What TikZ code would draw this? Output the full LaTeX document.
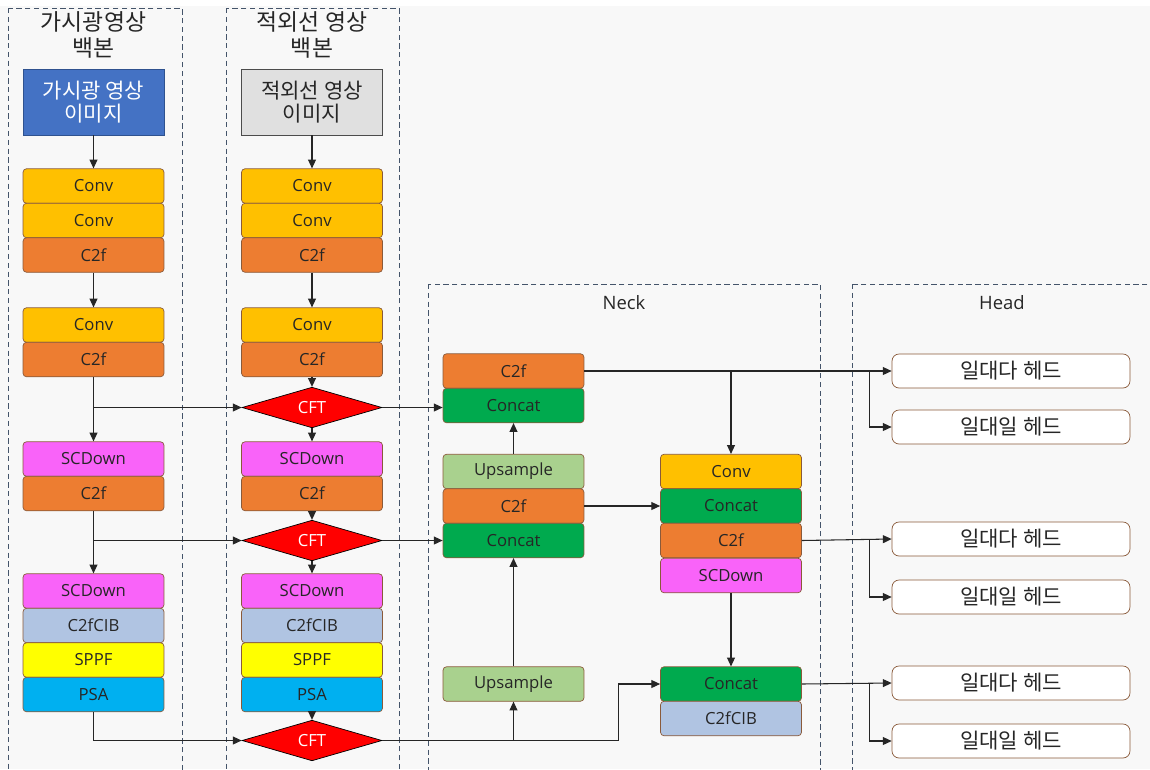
\documentclass[tikz,border=0pt]{standalone}
\usepackage{fontspec}
\setmainfont{Open Sans}
\newfontfamily\kr{Noto Sans CJK KR}
\usetikzlibrary{arrows.meta,shapes.geometric,positioning}

\definecolor{cconv}{HTML}{FFC000}
\definecolor{cc2f}{HTML}{ED7D31}
\definecolor{cscd}{HTML}{F963F9}
\definecolor{ccib}{HTML}{B0C4E2}
\definecolor{csppf}{HTML}{FFFF00}
\definecolor{cpsa}{HTML}{00B0F0}
\definecolor{ccat}{HTML}{00AA4E}
\definecolor{cup}{HTML}{A9D18E}
\definecolor{boxline}{HTML}{8A5A3A}
\definecolor{frame}{HTML}{44546A}
\definecolor{bg}{HTML}{F8F8F8}

\begin{document}
\begin{tikzpicture}[x=0.02cm,y=-0.02cm]

\tikzset{blk/.style={draw=boxline, rounded corners=2pt, minimum width=2.82cm, minimum height=0.69cm, inner sep=0pt, text=black!85, font=\fontsize{9.5}{11}\selectfont},
cft/.style={diamond, draw=black, fill=red, text=white, minimum width=2.8cm, minimum height=0.62cm, inner sep=0pt, font=\fontsize{9.5}{11}\selectfont},
headbox/.style={draw=boxline, fill=white, rounded corners=4pt, minimum width=4.76cm, minimum height=0.68cm, inner sep=0pt, text=black!85, font=\kr\fontsize{12}{13}\selectfont},
imgbox/.style={minimum width=2.82cm, minimum height=1.32cm, inner sep=0pt, align=center, font=\kr\fontsize{12}{13.5}\selectfont},
panel/.style={draw=frame, densely dashed, line width=0.5pt},
ttl/.style={align=center, text=black!85, font=\kr\fontsize{13}{14.5}\selectfont},
arr/.style={-{Triangle[length=5pt,width=4.5pt]}, line width=0.6pt, black!85}}

\useasboundingbox (0,0) rectangle (1150,769);
\fill[bg] (0,6) rectangle (1150,769);

% panels
\draw[panel] (8,8) rectangle (182,772);
\draw[panel] (226,8) rectangle (399,772);
\draw[panel] (428,284) rectangle (820,772);
\draw[panel] (852,284) rectangle (1153,772);

\node[ttl] (tvis) at (93.5,35) {가시광영상\\백본};
\node[ttl] (tir) at (312,35) {적외선 영상\\백본};
\node[ttl, font=\fontsize{10.5}{12}\selectfont] (tneck) at (624,303) {Neck};
\node[ttl, font=\fontsize{10.5}{12}\selectfont] (thead) at (1002,303) {Head};

% backbones
\node[imgbox, fill={rgb,255:red,68;green,114;blue,196}, draw={rgb,255:red,47;green,82;blue,143}, text=white] (limg) at (93.5,102) {가시광 영상\\이미지};
\node[imgbox, fill=black!12, draw=black!70, text=black!85] (rimg) at (312,102) {적외선 영상\\이미지};

\foreach \n/\t/\y/\c in {conva/Conv/186/cconv, convb/Conv/220.5/cconv, c2fa/C2f/255/cc2f, convc/Conv/325/cconv, c2fb/C2f/359.5/cc2f, scda/SCDown/459/cscd, c2fc/C2f/493.5/cc2f, scdb/SCDown/591/cscd, cib/C2fCIB/625.5/ccib, sppf/SPPF/660/csppf, psa/PSA/694.5/cpsa}
{
\node[blk, fill=\c] (l\n) at (93.5,\y) {\t};
\node[blk, fill=\c] (r\n) at (312,\y) {\t};
}

\node[cft] (cfta) at (312,407.5) {CFT};
\node[cft] (cftb) at (312,540.5) {CFT};
\node[cft] (cftc) at (312,740.5) {CFT};

% neck
\foreach \n/\t/\x/\y/\c in {nc2fa/C2f/513.5/371/cc2f, ncata/Concat/513.5/405.5/ccat, nupa/Upsample/513.5/471.5/cup, nc2fb/C2f/513.5/506/cc2f, ncatb/Concat/513.5/540.5/ccat, nupb/Upsample/513.5/684/cup, mconv/Conv/731/471.5/cconv, mcata/Concat/731/506/ccat, mc2f/C2f/731/540.5/cc2f, mscd/SCDown/731/575.5/cscd, mcatb/Concat/731/684/ccat, mcib/C2fCIB/731/718.5/ccib}
\node[blk, fill=\c] (\n) at (\x,\y) {\t};

% head
\foreach \n/\t/\y in {ha/일대다 헤드/371, hb/일대일 헤드/427, hc/일대다 헤드/539, hd/일대일 헤드/597, he/일대다 헤드/683, hf/일대일 헤드/741}
\node[headbox] (\n) at (1011,\y) {\t};

% backbone arrows
\draw[arr] (limg) -- (lconva);
\draw[arr] (rimg) -- (rconva);
\draw[arr] (lc2fa) -- (lconvc);
\draw[arr] (rc2fa) -- (rconvc);
\draw[arr] (lc2fb) -- (lscda);
\draw[arr] (lc2fb.south |- cfta.west) -- (cfta.west);
\draw[arr] (rc2fb) -- (cfta);
\draw[arr] (cfta) -- (rscda);
\draw[arr] (lc2fc) -- (lscdb);
\draw[arr] (lc2fc.south |- cftb.west) -- (cftb.west);
\draw[arr] (rc2fc) -- (cftb);
\draw[arr] (cftb) -- (rscdb);
\draw[arr] (lpsa.south) |- (cftc.west);
\draw[arr] (rpsa) -- (cftc);

% into the neck
\draw[arr] (cfta.east) -- (cfta.east -| ncata.west);
\draw[arr] (cftb.east) -- (cftb.east -| ncatb.west);
\coordinate (jc) at (cftc.east -| nupb.south);
\draw[arr] (cftc.east) -- (jc) -- (nupb.south);
\draw[arr] (jc) -- ++(105,0) |- (mcatb.west);
\draw[arr] (nupb) -- (ncatb);
\draw[arr] (nupa) -- (ncata);
\draw[arr] (nc2fb) -- (mcata);
\draw[arr] (nc2fa.east -| mconv.north) -- (mconv.north);
\draw[arr] (mscd) -- (mcatb);

% to the heads
\draw[arr] (nc2fa.east) -- (ha.west);
\draw[arr] ([xshift=-0.44cm]ha.west) |- (hb.west);
\draw[arr] (mc2f.east) -- (hc.west);
\draw[arr] ([xshift=-0.44cm]hc.west) |- (hd.west);
\draw[arr] (mcatb.east) -- (he.west);
\draw[arr] ([xshift=-0.44cm]he.west) |- (hf.west);

\end{tikzpicture}
\end{document}
